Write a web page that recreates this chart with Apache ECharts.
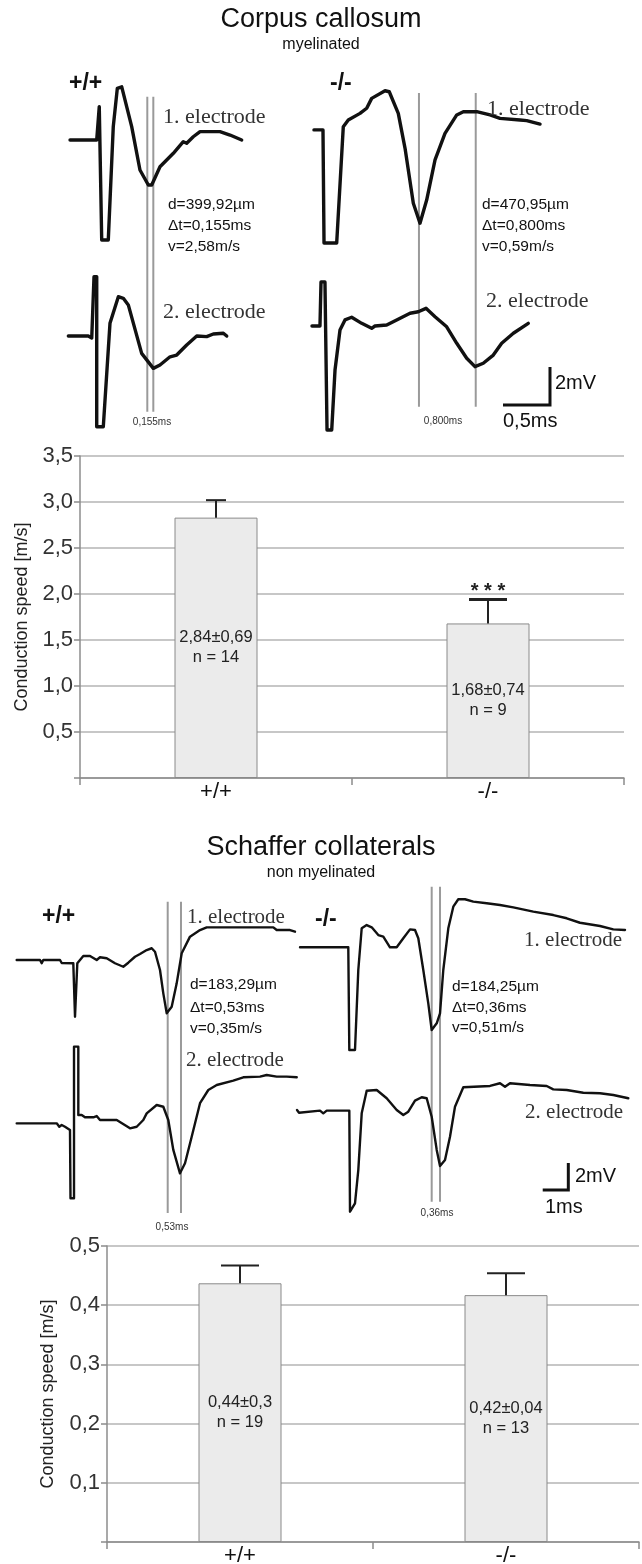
<!DOCTYPE html>
<html><head><meta charset="utf-8">
<script src="https://cdn.jsdelivr.net/npm/echarts@6/dist/echarts.min.js"></script>
<style>html,body{margin:0;padding:0;background:#fff}#c{width:642px;height:1564px}</style>
</head><body><div id="c"></div>
<script>
// ---------- Trace data: [time ms, potential mV] ----------
// Corpus callosum (myelinated)
const ccWT1 = [[0.745,15.79],[1.029,15.79],[1.056,17.54],[1.082,10.53],[1.152,10.53],[1.205,16.49],[1.248,18.51],[1.295,18.59],[1.401,16.49],[1.489,14.21],[1.578,13.42],[1.614,13.42],[1.702,14.38],[1.844,15.09],[1.950,15.70],[1.986,15.62],[2.056,15.96],[2.128,16.23],[2.340,16.23],[2.447,16.05],[2.571,15.79]];
const ccWT2 = [[0.727,5.47],[0.939,5.47],[0.976,5.37],[1.0,8.59],[1.029,8.59],[1.029,0.70],[1.099,0.70],[1.170,6.14],[1.259,7.54],[1.312,7.46],[1.365,7.11],[1.507,4.56],[1.631,3.77],[1.702,3.95],[1.809,4.38],[1.880,4.47],[1.986,5.0],[2.093,5.47],[2.199,5.44],[2.269,5.58],[2.376,5.62],[2.412,5.47]];
const ccKO1 = [[3.340,16.32],[3.436,16.32],[3.447,10.37],[3.582,10.37],[3.652,16.49],[3.705,16.84],[3.830,17.19],[3.901,17.46],[3.954,17.98],[4.096,18.38],[4.141,18.33],[4.237,17.19],[4.309,15.35],[4.397,12.46],[4.468,11.41],[4.539,12.63],[4.628,14.74],[4.734,16.14],[4.859,17.11],[4.929,17.28],[5.071,17.28],[5.213,17.11],[5.319,16.93],[5.532,16.84],[5.603,16.81],[5.745,16.63]];
const ccKO2 = [[3.319,6.0],[3.404,6.0],[3.415,8.32],[3.457,8.32],[3.479,0.53],[3.529,0.53],[3.564,3.68],[3.617,5.79],[3.670,6.32],[3.741,6.46],[3.848,6.14],[3.954,5.88],[3.989,6.0],[4.114,6.05],[4.220,6.32],[4.362,6.67],[4.450,6.75],[4.532,6.93],[4.628,6.49],[4.752,5.96],[4.859,5.09],[4.965,4.30],[5.053,3.86],[5.141,4.04],[5.248,4.47],[5.337,5.09],[5.461,5.62],[5.620,6.14]];
// Schaffer collaterals (non myelinated)
const scWT1 = [[0.652,20.0],[1.563,20.0],[1.629,19.76],[1.691,20.0],[2.344,20.0],[2.410,19.78],[2.863,19.76],[2.930,15.80],[3.020,19.76],[3.254,20.30],[3.516,20.30],[3.777,20.0],[3.906,20.20],[4.168,20.13],[4.492,19.76],[4.816,19.50],[5.012,19.80],[5.273,20.24],[5.469,20.44],[5.730,20.74],[5.926,20.87],[6.055,20.61],[6.25,19.26],[6.379,17.53],[6.512,16.05],[6.707,16.54],[6.902,18.27],[7.098,20.50],[7.422,21.73],[7.813,22.22],[8.074,22.42],[10.676,22.42],[10.809,22.22],[11.328,22.22],[11.523,22.10]];
const scWT2 = [[0.652,7.90],[2.215,7.90],[2.316,7.65],[2.410,7.78],[2.539,7.65],[2.734,7.41],[2.754,2.35],[2.891,2.35],[2.891,13.58],[3.059,13.58],[3.059,8.52],[3.191,8.52],[3.320,8.35],[3.645,8.35],[3.777,8.44],[3.906,8.15],[4.559,8.15],[5.078,7.53],[5.340,7.65],[5.598,8.15],[5.730,8.64],[6.121,9.26],[6.379,9.13],[6.574,8.15],[6.770,5.93],[7.031,4.20],[7.227,4.94],[7.488,6.91],[7.813,9.39],[8.137,10.37],[8.465,10.74],[9.113,11.06],[9.504,11.31],[10.156,11.36],[10.418,11.48],[10.809,11.36],[11.199,11.36],[11.590,11.31]];
const scKO1 = [[11.719,20.94],[13.605,20.94],[13.645,13.33],[13.867,13.33],[13.996,19.26],[14.129,22.35],[14.324,22.59],[14.520,22.42],[14.777,21.85],[14.973,21.73],[15.234,20.94],[15.496,20.94],[15.754,21.61],[16.016,22.27],[16.211,22.22],[16.340,21.61],[16.535,19.26],[16.730,16.79],[16.863,14.81],[17.059,15.31],[17.188,16.05],[17.316,19.26],[17.512,22.35],[17.707,23.95],[17.902,24.50],[18.164,24.50],[18.488,24.32],[19.012,24.20],[19.531,24.07],[20.051,23.90],[20.832,23.58],[21.613,23.33],[22.137,23.09],[22.656,22.76],[23.438,22.52],[23.957,22.27],[24.414,22.22]];
const scKO2 = [[11.602,8.89],[11.680,8.69],[12.5,8.84],[12.629,8.64],[12.762,8.84],[13.645,8.84],[13.672,1.36],[13.867,1.98],[13.996,4.44],[14.129,8.64],[14.324,10.32],[14.715,10.37],[15.105,9.76],[15.496,8.89],[15.754,8.52],[15.949,8.76],[16.211,9.58],[16.473,9.83],[16.668,9.76],[16.863,8.39],[17.059,5.93],[17.188,4.74],[17.383,5.19],[17.578,6.91],[17.773,9.13],[18.098,10.57],[19.141,10.67],[19.531,10.87],[19.727,10.61],[19.922,10.87],[20.703,10.74],[21.355,10.67],[21.613,10.42],[22.137,10.37],[22.785,10.17],[23.438,10.13],[23.957,10.0],[24.543,9.76]];
// latency markers: [time ms, top mV, bottom mV]
const ccMarkers = [[1.567,18.07,1.49],[1.631,18.07,1.49],[4.457,18.26,1.75],[5.061,18.26,1.75]];
const scMarkers = [[6.551,24.32,1.26],[7.070,24.32,1.26],[16.863,25.43,2.10],[17.188,25.43,2.10]];
// scale bars: corner [ms, mV], size [ms, mV]
const ccScaleCorner = [5.851, 1.84], ccScaleSize = [0.5, 2];
const scScaleCorner = [22.2, 2.96], scScaleSize = [1, 2];

// ---------- Bar data ----------
const groups = ['+/+', '-/-'];
const ccMeans = [2.83, 1.68];
const ccErrTop = [3.02, 1.94];
const ccLabelStat = ['2,84±0,69', '1,68±0,74'];
const ccN = [14, 9];
const ccSig = ['', '* * *'];
const scMeans = [0.437, 0.417];
const scErrTop = [0.467, 0.454];
const scLabelStat = ['0,44±0,3', '0,42±0,04'];
const scN = [19, 13];
const scSig = ['', ''];

// ---------- helpers ----------
const SANS = 'Liberation Sans, Arial, sans-serif';
const SERIF = 'Liberation Serif, Times New Roman, serif';
function trace(data, idx, w) {
  return {type:'line', xAxisIndex:idx, yAxisIndex:idx, data:data, symbol:'none', showSymbol:false,
    lineStyle:{color:'#111', width:w, join:'round', cap:'round'}, z:5, silent:true, animation:false};
}
function marker(m, idx) {
  return {type:'line', xAxisIndex:idx, yAxisIndex:idx, data:[[m[0], m[1]], [m[0], m[2]]], symbol:'none',
    lineStyle:{color:'#9a9a9a', width:2}, z:2, silent:true, animation:false};
}
function scaleBar(c, s, idx) {
  return {type:'line', xAxisIndex:idx, yAxisIndex:idx,
    data:[[c[0]-s[0], c[1]], [c[0], c[1]], [c[0], c[1]+s[1]]], symbol:'none',
    lineStyle:{color:'#111', width:3, join:'miter'}, z:5, silent:true, animation:false};
}
function txt(text, x, y, font, align, fill) {
  return {type:'text', x:x, y:y, z:10, silent:true,
    style:{text:text, font:font, fill:fill||'#111', align:align||'left', textAlign:align||'left',
      verticalAlign:'middle', textVerticalAlign:'middle'}};
}
const fmt = v => v === 0 ? '' : v.toFixed(1).replace('.', ',');

function barAxes(gi, maxV, interval, nameGap) {
  return {
    x: {type:'category', gridIndex:gi, data:groups,
      axisLine:{show:true, lineStyle:{color:'#8c8c8c', width:1.5}},
      axisTick:{show:true, length:7, lineStyle:{color:'#8c8c8c', width:1.5}},
      axisLabel:{fontSize:22, color:'#111', fontFamily:SANS, margin:3},
      splitLine:{show:false}},
    y: {type:'value', gridIndex:gi, min:0, max:maxV, interval:interval,
      axisLine:{show:true, lineStyle:{color:'#8c8c8c', width:1.5}},
      axisTick:{show:true, length:6, lineStyle:{color:'#8c8c8c', width:1.5}},
      axisLabel:{fontSize:22, color:'#333', fontFamily:SANS, margin:7, formatter:fmt},
      splitLine:{show:true, lineStyle:{color:'#b4b4b4', width:1.5}},
      name:'Conduction speed [m/s]', nameLocation:'middle', nameRotate:90, nameGap:nameGap,
      nameTextStyle:{fontSize:18, color:'#222', fontFamily:SANS}}
  };
}
function barSeries(gi, means, stat, ns) {
  return {type:'bar', xAxisIndex:gi, yAxisIndex:gi, data:means, barWidth:83, z:3, animation:false,
    itemStyle:{color:'#ebebeb', borderColor:'#8a8a8a', borderWidth:1},
    label:{show:true, position:'inside', color:'#222', fontSize:16.5, lineHeight:20, fontFamily:SANS,
      textBorderWidth:0, formatter:p => stat[p.dataIndex] + '\nn = ' + ns[p.dataIndex]}};
}
function errSeries(gi, means, tops, sig, capW, capLW) {
  return {type:'custom', xAxisIndex:gi, yAxisIndex:gi, z:4, animation:false, silent:true,
    data: means.map((m, i) => [i, m, tops[i]]),
    renderItem: function(params, api) {
      const i = params.dataIndex;
      const b = api.coord([api.value(0), api.value(1)]);
      const t = api.coord([api.value(0), api.value(2)]);
      const w = capW[i];
      const children = [
        {type:'line', shape:{x1:t[0], y1:b[1], x2:t[0], y2:t[1]}, style:{stroke:'#222', lineWidth:2}},
        {type:'line', shape:{x1:t[0]-w/2, y1:t[1], x2:t[0]+w/2, y2:t[1]}, style:{stroke:'#222', lineWidth:capLW[i]}}
      ];
      if (sig[i]) children.push({type:'text', style:{text:sig[i], x:t[0], y:t[1]+2, font:'bold 20px ' + SANS,
        fill:'#222', align:'center', textAlign:'center', verticalAlign:'bottom', textVerticalAlign:'bottom'}});
      return {type:'group', children:children};
    }};
}

const a2 = barAxes(2, 3.5, 0.5, 48);
const a3 = barAxes(3, 0.5, 0.1, 50);

const option = {
  backgroundColor:'#fff',
  animation:false,
  grid:[
    {left:0, top:80, width:642, height:360, containLabel:false, outerBoundsMode:'none'},
    {left:0, top:880, width:642, height:350, containLabel:false, outerBoundsMode:'none'},
    {left:80, top:456, width:544, height:322, containLabel:false, outerBoundsMode:'none'},
    {left:107, top:1246, width:532, height:296, containLabel:false, outerBoundsMode:'none'}
  ],
  xAxis:[
    {type:'value', gridIndex:0, min:0, max:642/94, show:false},
    {type:'value', gridIndex:1, min:0, max:642/25.6, show:false},
    a2.x, a3.x
  ],
  yAxis:[
    {type:'value', gridIndex:0, min:0, max:360/19, show:false},
    {type:'value', gridIndex:1, min:0, max:350/13.5, show:false},
    a2.y, a3.y
  ],
  series:[
    ...ccMarkers.map(m => marker(m, 0)),
    ...scMarkers.map(m => marker(m, 1)),
    trace(ccWT1, 0, 3.4), trace(ccWT2, 0, 3.4), trace(ccKO1, 0, 3.4), trace(ccKO2, 0, 3.4),
    trace(scWT1, 1, 2.4), trace(scWT2, 1, 2.4), trace(scKO1, 1, 2.4), trace(scKO2, 1, 2.4),
    scaleBar(ccScaleCorner, ccScaleSize, 0),
    scaleBar(scScaleCorner, scScaleSize, 1),
    barSeries(2, ccMeans, ccLabelStat, ccN),
    errSeries(2, ccMeans, ccErrTop, ccSig, [20, 38], [2, 3]),
    barSeries(3, scMeans, scLabelStat, scN),
    errSeries(3, scMeans, scErrTop, scSig, [38, 38], [2, 2])
  ],
  graphic:[
    txt('Corpus callosum', 321, 20, '27px ' + SANS, 'center'),
    txt('myelinated', 321, 45, '16px ' + SANS, 'center'),
    txt('+/+', 69, 84, 'bold 23px ' + SANS),
    txt('-/-', 330, 84, 'bold 23px ' + SANS),
    txt('1. electrode', 163, 117, '22px ' + SERIF, 'left', '#333'),
    txt('d=399,92µm', 168, 205, '15.5px ' + SANS),
    txt('Δt=0,155ms', 168, 226, '15.5px ' + SANS),
    txt('v=2,58m/s', 168, 247, '15.5px ' + SANS),
    txt('2. electrode', 163, 312, '22px ' + SERIF, 'left', '#333'),
    txt('0,155ms', 152, 422, '10px ' + SANS, 'center', '#333'),
    txt('1. electrode', 487, 109, '22px ' + SERIF, 'left', '#333'),
    txt('d=470,95µm', 482, 205, '15.5px ' + SANS),
    txt('Δt=0,800ms', 482, 226, '15.5px ' + SANS),
    txt('v=0,59m/s', 482, 247, '15.5px ' + SANS),
    txt('2. electrode', 486, 301, '22px ' + SERIF, 'left', '#333'),
    txt('0,800ms', 443, 421, '10px ' + SANS, 'center', '#333'),
    txt('2mV', 555, 383, '20px ' + SANS),
    txt('0,5ms', 503, 421, '20px ' + SANS),

    txt('Schaffer collaterals', 321, 848, '27px ' + SANS, 'center'),
    txt('non myelinated', 321, 873, '16px ' + SANS, 'center'),
    txt('+/+', 42, 917, 'bold 23px ' + SANS),
    txt('-/-', 315, 920, 'bold 23px ' + SANS),
    txt('1. electrode', 187, 917, '21px ' + SERIF, 'left', '#333'),
    txt('d=183,29µm', 190, 985, '15.5px ' + SANS),
    txt('Δt=0,53ms', 190, 1008, '15.5px ' + SANS),
    txt('v=0,35m/s', 190, 1029, '15.5px ' + SANS),
    txt('2. electrode', 186, 1060, '21px ' + SERIF, 'left', '#333'),
    txt('0,53ms', 172, 1227, '10px ' + SANS, 'center', '#333'),
    txt('1. electrode', 622, 940, '21px ' + SERIF, 'right', '#333'),
    txt('d=184,25µm', 452, 987, '15.5px ' + SANS),
    txt('Δt=0,36ms', 452, 1008, '15.5px ' + SANS),
    txt('v=0,51m/s', 452, 1028, '15.5px ' + SANS),
    txt('2. electrode', 623, 1112, '21px ' + SERIF, 'right', '#333'),
    txt('0,36ms', 437, 1213, '10px ' + SANS, 'center', '#333'),
    txt('2mV', 575, 1176, '20px ' + SANS),
    txt('1ms', 545, 1207, '20px ' + SANS)
  ]
};
const chart = echarts.init(document.getElementById('c'), null, {renderer:'canvas'});
chart.setOption(option);
</script>
</body></html>
